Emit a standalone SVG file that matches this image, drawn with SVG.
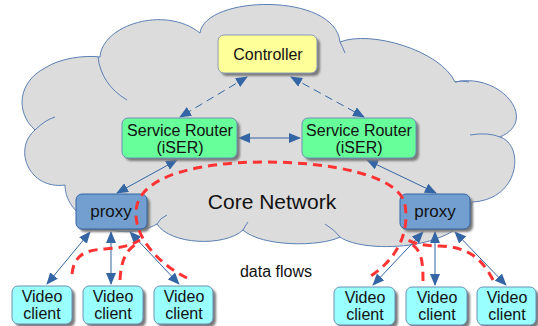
<svg xmlns="http://www.w3.org/2000/svg" width="538" height="326" viewBox="0 0 538 326">
<defs>
<marker id="ah" markerUnits="userSpaceOnUse" markerWidth="12" markerHeight="10" viewBox="0 0 12 10" refX="11" refY="5" orient="auto-start-reverse">
<path d="M0,0 L12,5 L0,10 Z" fill="#3465a4"/>
</marker>
<filter id="blur" x="-10%" y="-10%" width="130%" height="130%"><feGaussianBlur stdDeviation="0.8"/></filter>
</defs>
<style>
text{font-family:"Liberation Sans",Arial,sans-serif;fill:#111;text-anchor:middle}
.sh{fill:#7a7a7a;filter:url(#blur)}
.ctl{fill:#ffff99;stroke:#8a9bb8;stroke-width:1}
.sr{fill:#66ff99;stroke:#6f8fb8;stroke-width:1}
.px{fill:#729fcf;stroke:#3465a4;stroke-width:1}
.vc{fill:#99ffff;stroke:#6f8fb8;stroke-width:1}
.ln{stroke:#3465a4;stroke-width:1;fill:none;marker-start:url(#ah);marker-end:url(#ah)}
.dl{stroke-dasharray:8,5}
.flow{stroke:#ff3333;stroke-width:3;fill:none;stroke-dasharray:9,6}
.cl{fill:#dcdcdc;stroke:#5b7fb5;stroke-width:1}
.in{fill:none;stroke:#5b7fb5;stroke-width:1}
</style>
<g id="cloud">
<path class="cl" d="M35,130 C15,112 18,82 45,68 C60,58 85,55 100,57 C102,25 165,5 200,33 C205,-5 335,-8 340,42 C370,30 440,50 455,82 C500,72 540,120 500,137 C525,145 520,200 472,202 C470,250 365,255 340,237 C320,247 262,247 243,230 C225,247 170,245 157,224 C120,245 65,220 65,185 C30,190 12,150 35,130 Z"/>
<path class="in" d="M98,57 C100,75 110,90 127,100"/>
<path class="in" d="M35,130 Q45,120 55,117"/>
<path class="in" d="M500,137 Q488,132 470,135"/>
<path class="in" d="M455,82 Q462,80 469,82"/>
<path class="in" d="M340,42 Q343,48 345,53"/>
<path class="in" d="M157,224 Q160,218 167,215"/>
<path class="in" d="M243,230 Q245,226 248,222"/>
<path class="in" d="M340,237 Q335,230 325,224"/>
<text x="272" y="209" font-size="21">Core Network</text>
</g>
<g id="connectors">
<line class="ln dl" x1="247" y1="77" x2="180" y2="117"/>
<line class="ln dl" x1="291" y1="77" x2="364" y2="117"/>
<line class="ln" x1="239" y1="138" x2="300" y2="138"/>
<line class="ln" x1="177" y1="160" x2="117" y2="193"/>
<line class="ln" x1="367" y1="160" x2="436" y2="193"/>
<line class="ln" x1="90" y1="232" x2="47" y2="284"/>
<line class="ln" x1="111" y1="232" x2="111" y2="284"/>
<line class="ln" x1="130" y1="232" x2="179" y2="284"/>
<line class="ln" x1="423" y1="232" x2="373" y2="285"/>
<line class="ln" x1="435" y1="232" x2="435" y2="285"/>
<line class="ln" x1="455" y1="232" x2="506" y2="285"/>
</g>
<g id="controller">
<rect class="sh" x="221" y="38" width="99" height="38" rx="6"/>
<rect class="ctl" x="218" y="35" width="99" height="38" rx="6"/>
<text x="268" y="60" font-size="16">Controller</text>
</g>
<g id="sr1">
<rect class="sh" x="125" y="121" width="115" height="40" rx="6"/>
<rect class="sr" x="122" y="118" width="115" height="40" rx="6"/>
<text x="180" y="136" font-size="16">Service Router</text>
<text x="180" y="153" font-size="16">(iSER)</text>
</g>
<g id="sr2">
<rect class="sh" x="305" y="121" width="114" height="40" rx="6"/>
<rect class="sr" x="302" y="118" width="114" height="40" rx="6"/>
<text x="359" y="136" font-size="16">Service Router</text>
<text x="359" y="153" font-size="16">(iSER)</text>
</g>
<g id="proxy1">
<rect class="sh" x="79" y="197" width="71" height="35" rx="6"/>
<rect class="px" x="76" y="194" width="71" height="35" rx="6"/>
<text x="111" y="217" font-size="17">proxy</text>
</g>
<g id="proxy2">
<rect class="sh" x="403" y="197" width="70" height="35" rx="6"/>
<rect class="px" x="400" y="194" width="70" height="35" rx="6"/>
<text x="435" y="217" font-size="17">proxy</text>
</g>
<g id="vc1">
<rect class="sh" x="15" y="289" width="60" height="38" rx="6"/>
<rect class="vc" x="12" y="286" width="60" height="38" rx="6"/>
<text x="42" y="302" font-size="16">Video</text>
<text x="42" y="319" font-size="16">client</text>
</g>
<g id="vc2">
<rect class="sh" x="86" y="289" width="60" height="38" rx="6"/>
<rect class="vc" x="83" y="286" width="60" height="38" rx="6"/>
<text x="113" y="302" font-size="16">Video</text>
<text x="113" y="319" font-size="16">client</text>
</g>
<g id="vc3">
<rect class="sh" x="157" y="289" width="59" height="38" rx="6"/>
<rect class="vc" x="154" y="286" width="59" height="38" rx="6"/>
<text x="184" y="302" font-size="16">Video</text>
<text x="184" y="319" font-size="16">client</text>
</g>
<g id="vc4">
<rect class="sh" x="337" y="290" width="61" height="38" rx="6"/>
<rect class="vc" x="334" y="287" width="61" height="38" rx="6"/>
<text x="365" y="303" font-size="16">Video</text>
<text x="365" y="320" font-size="16">client</text>
</g>
<g id="vc5">
<rect class="sh" x="409" y="290" width="61" height="38" rx="6"/>
<rect class="vc" x="406" y="287" width="61" height="38" rx="6"/>
<text x="437" y="303" font-size="16">Video</text>
<text x="437" y="320" font-size="16">client</text>
</g>
<g id="vc6">
<rect class="sh" x="480" y="290" width="59" height="38" rx="6"/>
<rect class="vc" x="477" y="287" width="59" height="38" rx="6"/>
<text x="507" y="303" font-size="16">Video</text>
<text x="507" y="320" font-size="16">client</text>
</g>
<g id="flows">
<path class="flow" d="M187,278 C160,265 130,235 137,205 C145,175 200,162 265,162 C330,162 400,175 405,205 C410,235 395,262 366,279"/>
<path class="flow" d="M72,274 C74,255 85,250 105,249 C120,248 130,246 140,240"/>
<path class="flow" d="M120,280 C121,262 125,250 138,243"/>
<path class="flow" d="M493,280 C480,255 465,247 440,246 C425,246 415,244 408,240"/>
<path class="flow" d="M423,281 C423,262 422,250 410,243"/>
<text x="276" y="277" font-size="16" stroke="none">data flows</text>
</g>
</svg>
